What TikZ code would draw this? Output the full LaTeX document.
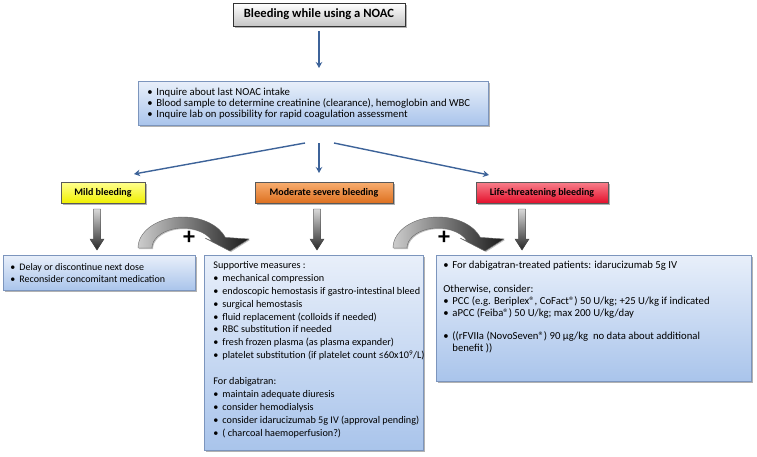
\documentclass[tikz,border=0pt]{standalone}
\usepackage{fontspec}
\setmainfont{Carlito}
\usetikzlibrary{arrows.meta,shadows,calc}
\definecolor{arrowblue}{HTML}{3D6399}
\definecolor{bluetop}{HTML}{E8EFFA}
\definecolor{bluebot}{HTML}{A9C4EB}
\definecolor{blueborder}{HTML}{7C95BD}
\definecolor{mildtop}{HTML}{FFFF90}
\definecolor{mildbot}{HTML}{F0F000}
\definecolor{modtop}{HTML}{F8AE70}
\definecolor{modbot}{HTML}{DD7020}
\definecolor{lifetop}{HTML}{F8808C}
\definecolor{lifebot}{HTML}{E4102C}
\newcommand{\bul}{\makebox[9pt][l]{\textbullet}}
\newcommand{\itm}[1]{\mbox{\bul #1}}
\newcommand{\blockdown}[3]{%
  \fill[top color=gray!30, bottom color=black!85, draw=black!70, line width=0.4pt]
    ({#1-3.5},#2) -- ({#1+3.5},#2) -- ({#1+3.5},{#3-11}) -- ({#1+7},{#3-11})
    -- (#1,#3) -- ({#1-7},{#3-11}) -- ({#1-3.5},{#3-11}) -- cycle;}
\begin{document}
\begin{tikzpicture}[x=1pt,y=-1pt,
  shadowed/.style={drop shadow={shadow xshift=1.5pt,shadow yshift=-1.5pt,opacity=0.3,fill=black}},
  bluebox/.style={draw=blueborder, line width=0.8pt, top color=bluetop, bottom color=bluebot,
    anchor=north west, inner ysep=6pt, shadowed, font=\fontsize{10.5}{12}\selectfont},
  labelbox/.style={draw=gray!70!black, line width=0.6pt, minimum height=21pt, inner sep=0pt,
    font=\bfseries\fontsize{10}{11}\selectfont, shadowed},
  bluearrow/.style={draw=arrowblue, line width=1.4pt, -{Stealth[length=6pt,width=6.5pt]}},
  curvearr/.style={left color=gray!40, right color=black!90, draw=black!60, line width=0.4pt,
    drop shadow={shadow xshift=1pt,shadow yshift=-1pt,opacity=0.25,fill=black}},
  plussign/.style={font=\bfseries\fontsize{24}{24}\selectfont, inner sep=0pt}
]
\useasboundingbox (0,0) rectangle (757,456);

% title
\node[labelbox, draw=gray!40!black, top color=white, bottom color=gray!45, minimum width=172pt,
  minimum height=23pt, font=\bfseries\fontsize{12.6}{14}\selectfont] (title) at (319,14.5)
  {Bleeding while using a NOAC};

% inquiry box
\node[bluebox, inner xsep=9pt] (inq) at (138,81) {\parbox[c][32pt][c]{332pt}{\fontsize{10.7}{11}\selectfont\raggedright
  \itm{Inquire about last NOAC intake}\\
  \itm{Blood sample to determine creatinine (clearance), hemoglobin and WBC}\\
  \itm{Inquire lab on possibility for rapid coagulation assessment}}};

\draw[bluearrow] (title.south |- 0,31) -- (title.south |- 0,68);

% severity labels
\node[labelbox, top color=mildtop, bottom color=mildbot, minimum width=84pt] (mild) at (103,192.5) {Mild bleeding};
\node[labelbox, top color=modtop, bottom color=modbot, minimum width=138pt] (mod) at (324,192.5) {Moderate severe bleeding};
\node[labelbox, top color=lifetop, bottom color=lifebot, minimum width=132pt] (life) at (542,192.5) {Life-threatening bleeding};

\coordinate (s1) at (305,143);
\coordinate (s2) at (319,143);
\coordinate (s3) at (334,143);
\coordinate (t1) at (134,174);
\coordinate (t2) at (319,173);
\coordinate (t3) at (489,175);
\draw[bluearrow] (s1) -- (t1);
\draw[bluearrow] (s2) -- (t2);
\draw[bluearrow] (s3) -- (t3);

% block arrows down
\blockdown{97}{209}{250}
\blockdown{317}{209}{250}
\blockdown{522}{209}{250}

% curved arrows
\foreach \dx/\nm in {0/p1,255/p2}{
\begin{scope}[xshift=\dx pt]
\path[curvearr]
  (138,248) arc[start angle=180, end angle=340, x radius=45, y radius=31]
  -- (249,239) -- (230,251) -- (205,238) -- (212.1,241.2)
  arc[start angle=340, end angle=180, x radius=31, y radius=20] -- cycle;
\node[plussign] (\nm) at (189,238) {+};
\end{scope}}

% lower boxes
\node[bluebox, inner xsep=7pt] (mildbox) at (3,255) {\parbox[c][23pt][c]{178pt}{\fontsize{10}{12.5}\selectfont\raggedright
  \itm{Delay or discontinue next dose}\\
  \itm{Reconsider concomitant medication}}};

\node[bluebox, inner xsep=9pt] (modbox) at (204,255) {\parbox[c][183pt][t]{201pt}{\fontsize{10.2}{12.9}\selectfont\raggedright
  Supportive measures :\\
  \itm{mechanical compression}\\
  \itm{endoscopic hemostasis if gastro-intestinal bleed}\\
  \itm{surgical hemostasis}\\
  \itm{fluid replacement (colloids if needed)}\\
  \itm{RBC substitution if needed}\\
  \itm{fresh frozen plasma (as plasma expander)}\\
  \itm{platelet substitution (if platelet count ≤60x10\textsuperscript{9}/L)}\\[12.9pt]
  For dabigatran:\\
  \itm{maintain adequate diuresis}\\
  \itm{consider hemodialysis}\\
  \itm{consider idarucizumab 5g IV (approval pending)}\\
  \itm{( charcoal haemoperfusion?)}}};

\node[bluebox, inner xsep=7pt] (lifebox) at (436,255) {\parbox[c][114pt][t]{301pt}{\fontsize{10.7}{11.8}\selectfont\raggedright
  \itm{For dabigatran-treated patients: idarucizumab 5g IV}\\[11.8pt]
  Otherwise, consider:\\
  \itm{PCC (e.g. Beriplex®, CoFact®) 50 U/kg; +25 U/kg if indicated}\\
  \itm{aPCC (Feiba®) 50 U/kg; max 200 U/kg/day}\\[11.8pt]
  \itm{((rFVIIa (NovoSeven®) 90 μg/kg~ no data about additional}\\
  \hspace*{9pt}benefit ))}};
\end{tikzpicture}
\end{document}
